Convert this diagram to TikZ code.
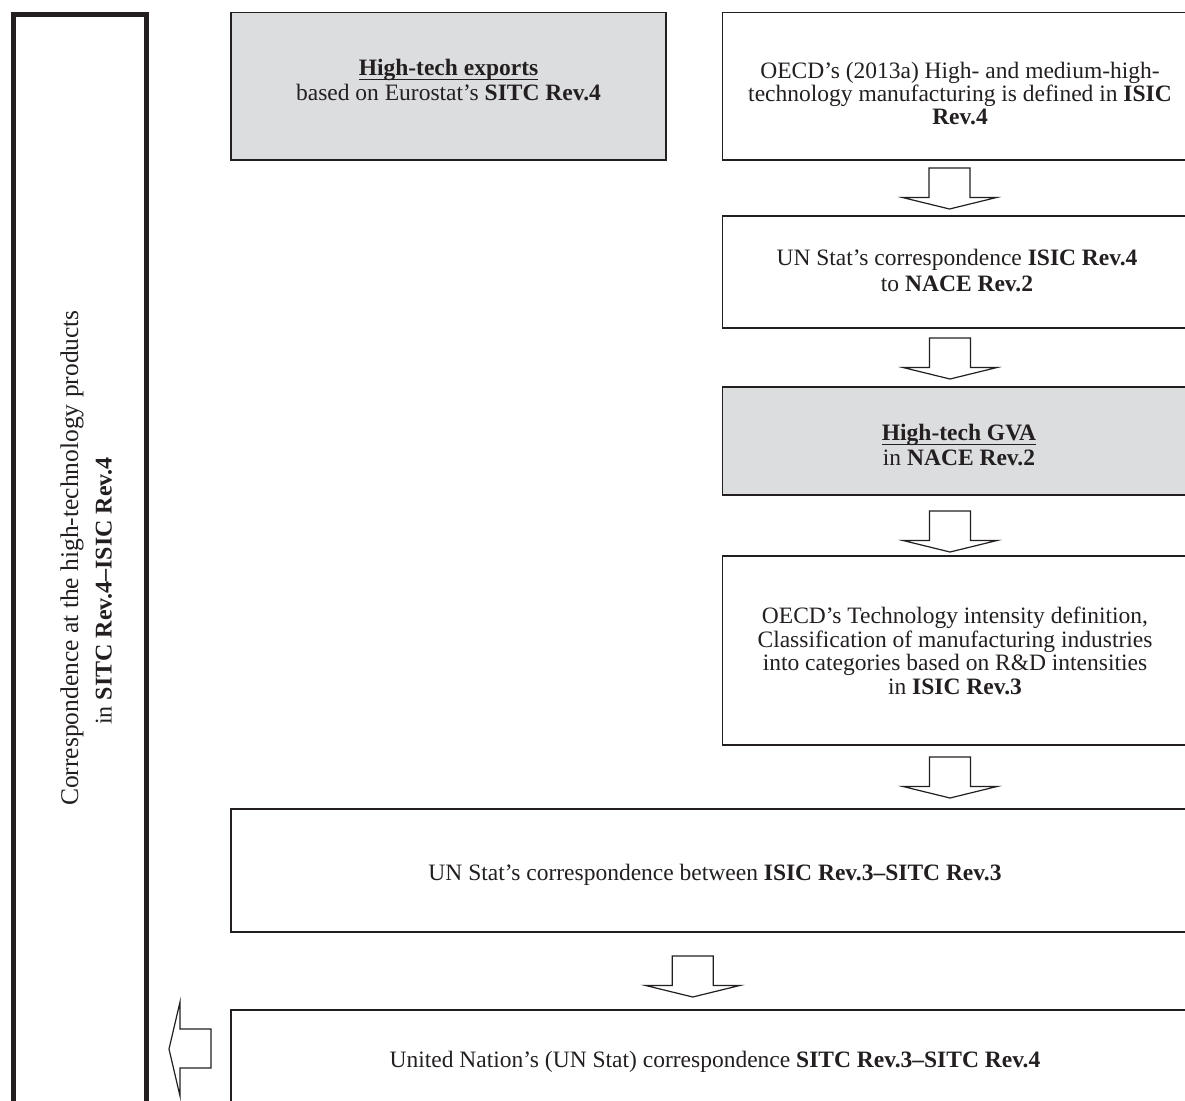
\documentclass[tikz,border=0pt]{standalone}
\usepackage{fontspec}
\setmainfont{Liberation Serif}
\usetikzlibrary{calc}
\definecolor{ink}{HTML}{231F20}
\definecolor{boxgray}{HTML}{DCDDDF}
\newcommand{\myul}[1]{{\setbox0\hbox{#1}\rlap{\color{ink}\rule[-4.2pt]{\wd0}{1.3pt}}\box0}}
\tikzset{
  txt/.style={font=\fontsize{23.5}{24}\selectfont, text=ink, align=center, inner sep=0pt},
  txtwide/.style={txt, font=\fontsize{23.5}{25}\selectfont},
  box/.style={draw=ink, line width=1.6pt, inner sep=0pt},
  graybox/.style={box, fill=boxgray},
  sidebox/.style={draw=ink, line width=5pt, inner sep=0pt},
  blockarrow/.style={draw=ink, line width=1.2pt, fill=white, line join=miter},
}
\newcommand{\blockdown}[2]{%
  \draw[blockarrow] (#1-20.5,#2) -- (#1+20.5,#2) -- (#1+20.5,#2+29.5) -- (#1+47,#2+29.5)
     -- (#1,#2+41) -- (#1-47,#2+29.5) -- (#1-20.5,#2+29.5) -- cycle;}
\begin{document}
\begin{tikzpicture}[x=1pt,y=-1pt]
\useasboundingbox (0,0) rectangle (1185,1100);
\clip (0,0) rectangle (1185,1100);
\fill[white] (0,0) rectangle (1185,1100);

% left side box
\node[sidebox, minimum width=133pt, minimum height=1116pt] (L) at (80,572) {};
\node[txt, font=\fontsize{25.5}{26}\selectfont, rotate=90, anchor=base] (L1) at (78,558) {Correspondence at the high-technology products};
\node[txt, font=\fontsize{24}{26}\selectfont, rotate=90, anchor=base] (L2) at (111.5,591) {in \textbf{SITC Rev.4–ISIC Rev.4}};

% boxes
\node[graybox, minimum width=435.5pt, minimum height=147.5pt] (A) at (448.5,86.25) {};
\node[txtwide] (At) at (448.5,80.5) {\myul{\textbf{High-tech exports}}\\based on Eurostat’s \textbf{SITC Rev.4}};

\node[box, minimum width=477.5pt, minimum height=147.5pt] (B) at (961.25,86.25) {};
\node[txt, font=\fontsize{23.5}{22.8}\selectfont] (Bt) at (960,93.5) {OECD’s (2013a) High- and medium-high-\\technology manufacturing is defined in \textbf{ISIC}\\\textbf{Rev.4}};

\node[box, minimum width=477.5pt, minimum height=112pt] (C) at (961.25,272) {};
\node[txt, font=\fontsize{23.5}{26}\selectfont] (Ct) at (957,271) {UN Stat’s correspondence \textbf{ISIC Rev.4}\\to \textbf{NACE Rev.2}};

\node[graybox, minimum width=477.5pt, minimum height=108pt] (D) at (961.25,441) {};
\node[txtwide] (Dt) at (959,445.5) {\myul{\textbf{High-tech GVA}}\\in \textbf{NACE Rev.2}};

\node[box, minimum width=477.5pt, minimum height=189pt] (E) at (961.25,650.5) {};
\node[txt, font=\fontsize{23.5}{23.5}\selectfont] (Et) at (955,651) {OECD’s Technology intensity definition,\\Classification of manufacturing industries\\into categories based on R\&D intensities\\in \textbf{ISIC Rev.3}};

\node[box, line width=1.8pt, minimum width=969.25pt, minimum height=123pt] (F) at (715.4,870.5) {};
\node[txt] (Ft) at (715,874.5) {UN Stat’s correspondence between \textbf{ISIC Rev.3–SITC Rev.3}};

\node[box, line width=1.8pt, minimum width=969.25pt, minimum height=120pt] (G) at (715.4,1070) {};
\node[txt] (Gt) at (715,1062) {United Nation’s (UN Stat) correspondence \textbf{SITC Rev.3–SITC Rev.4}};

% block arrows
\blockdown{949.5}{168}
\blockdown{950}{338}
\blockdown{950}{511}
\blockdown{950}{757}
\blockdown{692.7}{956}
\draw[blockarrow] (211,1029) -- (180,1029) -- (180,1002) -- (169,1049) -- (180,1096)
   -- (180,1068) -- (211,1068) -- cycle;
\end{tikzpicture}
\end{document}
